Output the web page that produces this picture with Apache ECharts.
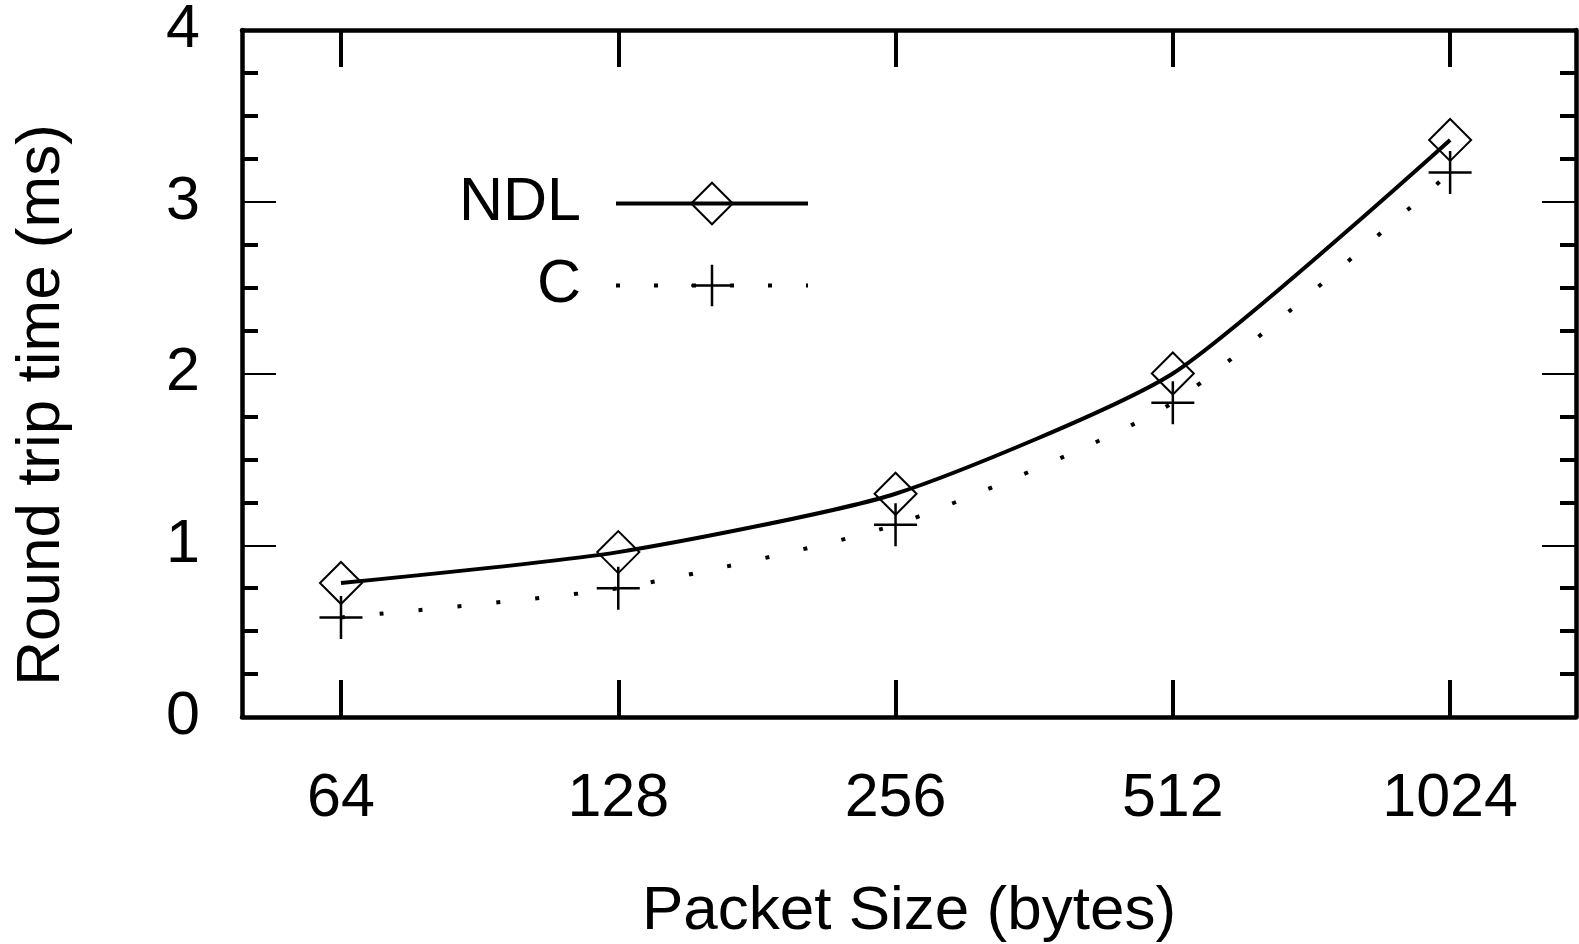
<!DOCTYPE html>
<html>
<head>
<meta charset="utf-8">
<script src="https://cdn.jsdelivr.net/npm/echarts@6/dist/echarts.min.js"></script>
<style>
html,body{margin:0;padding:0;background:#fff;}
#c{width:1579px;height:944px;}
</style>
</head>
<body>
<div id="c"></div>
<script>
const packetSizes = [64, 128, 256, 512, 1024];
const ndlValues = [0.78, 0.96, 1.30, 2.00, 3.36];
const cValues = [0.58, 0.75, 1.12, 1.83, 3.17];
const yTicks = [0, 1, 2, 3, 4];
const xTitle = 'Packet Size (bytes)';
const yTitle = 'Round trip time (ms)';

const FONT = '"Liberation Sans", Arial, sans-serif';
const xPos = packetSizes.map(s => Math.log2(s));
const ndlData = xPos.map((x, i) => [x, ndlValues[i]]);
const cData = xPos.map((x, i) => [x, cValues[i]]);
const plusPath = 'path://M0,10L20,10M10,0L10,20';

const chart = echarts.init(document.getElementById('c'), null, {renderer: 'canvas'});

const xCommon = {
  type: 'value', min: 5.643, max: 10.454,
  axisLine: {show: true, onZero: false, lineStyle: {color: '#000', width: 4.5}},
  axisTick: {show: true, inside: true, length: 37, lineStyle: {color: '#000', width: 4}, customValues: xPos},
  splitLine: {show: false}
};
const yCommon = {
  type: 'value', min: 0, max: 4, interval: 1,
  axisLine: {show: true, onZero: false, lineStyle: {color: '#000', width: 4.5}},
  axisTick: {show: true, inside: true, length: 34, lineStyle: {color: '#000', width: 2}},
  minorTick: {show: true, splitNumber: 4, length: 16, lineStyle: {color: '#000', width: 4}},
  splitLine: {show: false}
};

chart.setOption({
  animation: false,
  backgroundColor: '#fff',
  grid: {left: 242, top: 30, right: 3, bottom: 227, containLabel: false, outerBoundsMode: 'none'},
  xAxis: [
    Object.assign({}, xCommon, {
      position: 'bottom',
      axisLabel: {show: true, customValues: xPos, margin: 52, fontSize: 61, color: '#000', fontFamily: FONT,
        formatter: v => String(packetSizes[xPos.findIndex(p => Math.abs(p - v) < 1e-6)])},
      name: xTitle, nameLocation: 'middle', nameGap: 164,
      nameTextStyle: {fontSize: 62, color: '#000', fontFamily: FONT}
    }),
    Object.assign({}, xCommon, {position: 'top', axisLabel: {show: false}})
  ],
  yAxis: [
    Object.assign({}, yCommon, {
      position: 'left',
      axisLabel: {show: true, margin: 42, fontSize: 61, color: '#000', fontFamily: FONT,
        formatter: v => String(yTicks[Math.round(v)])}
    }),
    Object.assign({}, yCommon, {position: 'right', axisLabel: {show: false}})
  ],
  graphic: [{
    type: 'text', x: 42, y: 405, rotation: Math.PI / 2,
    style: {text: yTitle, fontSize: 62, fill: '#000', fontFamily: FONT, align: 'center', verticalAlign: 'middle'}
  }],
  legend: [
    {data: ['NDL'], orient: 'vertical', right: 764, top: 168, align: 'right', itemWidth: 192, itemHeight: 52, itemGap: 0,
     textStyle: {fontSize: 61, color: '#000', fontFamily: FONT, padding: [0, 30, 0, 0]},
     lineStyle: {width: 4, color: '#000', type: 'solid'},
     itemStyle: {borderWidth: 2, borderColor: '#000', color: 'rgba(0,0,0,0)'}, selectedMode: false},
    {data: ['C'], orient: 'vertical', right: 764, top: 250, align: 'right', itemWidth: 192, itemHeight: 52, itemGap: 0,
     textStyle: {fontSize: 61, color: '#000', fontFamily: FONT, padding: [0, 30, 0, 0]},
     lineStyle: {width: 4, color: '#000', type: [4, 34], cap: 'butt'},
     itemStyle: {borderWidth: 2.5, borderColor: '#000', color: '#000'}, selectedMode: false}
  ],
  series: [
    {
      name: 'NDL', type: 'line', data: ndlData, smooth: 0.2,
      symbol: 'diamond', symbolSize: 42,
      lineStyle: {color: '#000', width: 4},
      itemStyle: {color: 'rgba(0,0,0,0)', borderColor: '#000', borderWidth: 2},
      z: 3
    },
    {
      name: 'C', type: 'line', data: cData, smooth: 0.2,
      symbol: plusPath, symbolSize: 43,
      lineStyle: {color: '#000', width: 4, type: [4, 35], cap: 'butt'},
      itemStyle: {color: '#000', borderColor: '#000', borderWidth: 2.5},
      z: 2
    }
  ]
});
</script>
</body>
</html>
